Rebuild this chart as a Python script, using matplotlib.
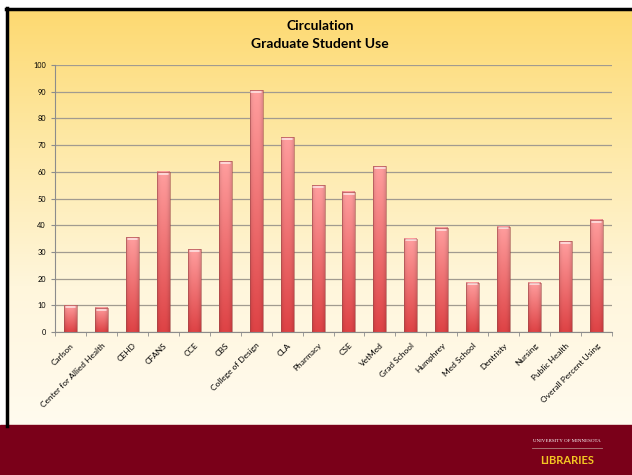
import numpy as np
import matplotlib
matplotlib.use("Agg")
import matplotlib.pyplot as plt
from matplotlib.patches import Rectangle
from matplotlib.colors import LinearSegmentedColormap

# datos del grafico
categorias = ["Carlson", "Center for Allied Health", "CEHD", "CFANS", "CCE", "CBS",
              "College of Design", "CLA", "Pharmacy", "CSE", "VetMed", "Grad School",
              "Humphrey", "Med School", "Dentristy", "Nursing", "Public Health",
              "Overall Percent Using"]
valores = [10, 9, 35.5, 60, 31, 64, 90.5, 73, 55, 52.5, 62, 35, 39, 18.5, 39.5, 18.5, 34, 42]
titulo = "Circulation\nGraduate Student Use"

plt.rcParams['font.family'] = ['Lato', 'DejaVu Sans']

fig = plt.figure(figsize=(6.32, 4.75), dpi=100)
fig.patch.set_facecolor("white")

# fondo de la diapositiva
bg = fig.add_axes([0, 0, 1, 1], zorder=0)
bg.set_xlim(0, 632)
bg.set_ylim(475, 0)
bg.axis("off")
fondo = LinearSegmentedColormap.from_list("fondo", ["#FDD970", "#FEE9A8", "#FFF6DC", "#FFFBEF"])
grad = np.linspace(0, 1, 256).reshape(-1, 1)
bg.imshow(grad, cmap=fondo, extent=[6, 632, 426, 8], aspect="auto")
bg.plot([7, 7], [8, 426], color="black", lw=2.5)
bg.plot([6, 632], [9, 9], color="black", lw=2.5)
bg.add_patch(Rectangle((0, 425), 632, 50, color="#7A0019"))
bg.text(567, 441, "UNIVERSITY OF MINNESOTA", color="white", fontsize=3.6,
        family="Liberation Serif", ha="center", va="center")
bg.plot([532, 602], [448, 448], color="#B08080", lw=0.6)
bg.text(567, 460, "LIBRARIES", color="#F3C623", fontsize=8, fontweight="bold",
        ha="center", va="center")
bg.text(320, 35, titulo, fontsize=10, fontweight="bold", ha="center", va="center",
        linespacing=1.6)

ax = fig.add_axes([55/632, (475-332)/475, (612-55)/632, (332-65)/475], zorder=1)
ax.patch.set_alpha(0)

x = np.arange(len(categorias))
barras = ax.bar(x, valores, width=0.42, color="none", edgecolor="#A04848", lw=0.4, zorder=3)

# degradado de cada barra: rosa arriba, rojo abajo
horiz = 1 - np.abs(np.linspace(-1, 1, 40)) ** 3
vert = np.linspace(1, 0, 100)
rosa = np.array([1.0, 0.62, 0.62])
rojo = np.array([0.87, 0.26, 0.27])
for b in barras:
    col = rojo + (rosa - rojo) * vert.reshape(-1, 1, 1)
    img = col * (0.86 + 0.14 * horiz.reshape(1, -1, 1))
    xb, yb = b.get_x(), b.get_y()
    ax.imshow(np.clip(img, 0, 1), extent=[xb, xb + b.get_width(), yb, yb + b.get_height()],
              origin="upper", aspect="auto", zorder=2)
    # brillo en la parte de arriba
    ax.plot([xb + 0.06, xb + b.get_width() - 0.06], [b.get_height() - 0.7] * 2,
            color="white", alpha=0.7, lw=1.2, solid_capstyle="round", zorder=4)
ax.set_xlim(-0.5, len(categorias) - 0.5)
ax.set_ylim(0, 100)
ax.set_yticks(np.arange(0, 101, 10))
ax.yaxis.grid(True, color="#A19B90", lw=0.9)
ax.set_axisbelow(True)
ax.set_xticks(x)
ax.set_xticklabels(categorias, rotation=45, ha="right", rotation_mode="anchor", fontsize=6)
ax.set_xticks(np.arange(-0.5, len(categorias)), minor=True)
ax.tick_params(axis="x", which="major", length=0, pad=7)
ax.tick_params(axis="x", which="minor", length=3, color="#8C8C8C")
ax.tick_params(axis="y", labelsize=5.3, length=3, color="#8C8C8C")
for s in ["top", "right"]:
    ax.spines[s].set_visible(False)
for s in ["left", "bottom"]:
    ax.spines[s].set_color("#8C8C8C")

fig.savefig("out.png", dpi=100)
